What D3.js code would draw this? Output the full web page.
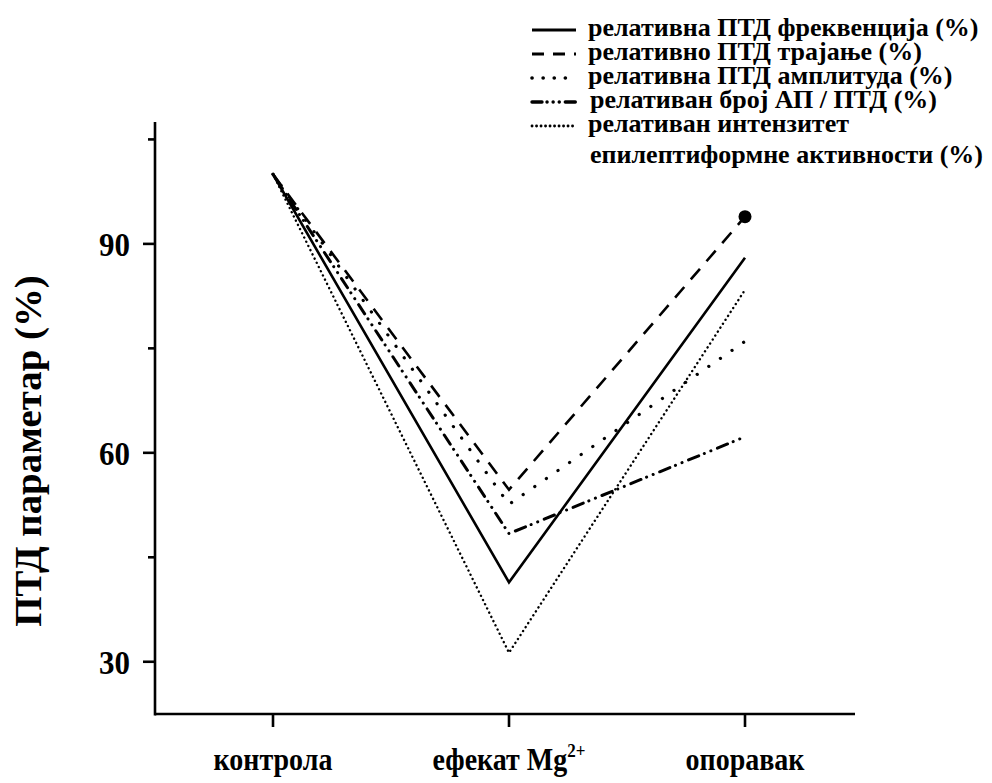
<!DOCTYPE html>
<html>
<head>
<meta charset="utf-8">
<script src="https://cdn.jsdelivr.net/npm/d3@7"></script>
<style>
  body { margin: 0; background: #fff; }
  text { font-family: "Liberation Serif", "Times New Roman", serif; font-weight: bold; fill: #000; }
</style>
</head>
<body>
<div id="chart"></div>
<script>
// Categories and series (values in %)
const categories = ['контрола', 'ефекат Mg', 'опоравак'];
const frequency = [100, 41.4, 88.0];
const duration = [100, 54.7, 93.9];
const amplitude = [100, 52.6, 76.0];
const apCount = [100, 48.4, 62.3];
const intensity = [100, 31.3, 83.4];
const yTicksMajor = [30, 60, 90];
const yTicksMinor = [45, 75, 105];

const series = [
    { name: 'релативна ПТД фреквенција (%)', values: frequency, dash: null, legDash: null, width: 2.6 },
    { name: 'релативно ПТД трајање (%)', values: duration, dash: '14,10', legDash: '12,9', width: 2.6 },
    { name: 'релативна ПТД амплитуда (%)', values: amplitude, dash: '0.1,14', legDash: '0.1,11', width: 3.2, cap: 'round' },
    { name: 'релативан број АП / ПТД (%)', values: apCount, dash: '11,6,0.1,7,0.1,7', legDash: '10,5,0.1,6,0.1,6,0.1,6', width: 3, cap: 'round' },
    { name: 'релативан интензитет', values: intensity, dash: '0.1,4.6', legDash: '0.1,4.4', width: 2.4, cap: 'round' }
];

const width = 992, height = 783;
const stretch = 1.1; // text in the picture is a bit taller than wide

const svg = d3.select('#chart')
    .append('svg')
    .attr('width', width)
    .attr('height', height);

const x = d3.scalePoint()
    .domain(categories)
    .range([155, 863])
    .padding(0.5);

const y = d3.scaleLinear()
    .domain([22.5, 107.5])
    .range([714, 122]);

// Axes
const yAxis = svg.append('g')
    .attr('transform', 'translate(155,0)');
yAxis.append('line')
    .attr('y1', y(107.5)).attr('y2', y(22.5) + 1.5)
    .attr('stroke', '#000').attr('stroke-width', 2.6);
yAxis.selectAll('.major')
    .data(yTicksMajor)
    .enter().append('line')
    .attr('x1', -12).attr('x2', 0)
    .attr('y1', d => y(d)).attr('y2', d => y(d))
    .attr('stroke', '#000').attr('stroke-width', 2.6);
yAxis.selectAll('.minor')
    .data(yTicksMinor)
    .enter().append('line')
    .attr('x1', -7).attr('x2', 0)
    .attr('y1', d => y(d)).attr('y2', d => y(d))
    .attr('stroke', '#000').attr('stroke-width', 2.6);
yAxis.selectAll('.lbl')
    .data(yTicksMajor)
    .enter().append('text')
    .attr('transform', d => `translate(-25,${y(d)}) scale(1,${stretch})`)
    .attr('dy', '0.35em')
    .attr('text-anchor', 'end')
    .style('font-size', '31px')
    .text(d => d);

const xAxis = svg.append('g')
    .attr('transform', `translate(0,${y(22.5)})`);
xAxis.append('line')
    .attr('x1', 155).attr('x2', 855)
    .attr('stroke', '#000').attr('stroke-width', 2.6);
xAxis.selectAll('.tick')
    .data(categories)
    .enter().append('line')
    .attr('x1', d => x(d)).attr('x2', d => x(d))
    .attr('y1', 0).attr('y2', 13)
    .attr('stroke', '#000').attr('stroke-width', 2.6);

const xLabels = svg.selectAll('.xlbl')
    .data(categories)
    .enter().append('text')
    .attr('transform', d => `translate(${x(d)},770) scale(1,${stretch})`)
    .attr('text-anchor', 'middle')
    .style('font-size', '28px');
xLabels.text(d => d);
xLabels.filter(d => d === 'ефекат Mg')
    .append('tspan')
    .attr('dy', -12)
    .style('font-size', '17px')
    .text('2+');

// Y title
svg.append('text')
    .attr('transform', 'translate(41,451) rotate(-90) scale(1.05,1)')
    .attr('text-anchor', 'middle')
    .style('font-size', '37px')
    .text('ПТД параметар (%)');

// Lines
const line = d3.line()
    .x((d, i) => x(categories[i]))
    .y(d => y(d));

svg.selectAll('.series')
    .data(series)
    .enter().append('path')
    .attr('d', d => line(d.values))
    .attr('fill', 'none')
    .attr('stroke', '#000')
    .attr('stroke-width', d => d.width)
    .attr('stroke-linecap', d => d.cap || 'butt')
    .attr('stroke-dasharray', d => d.dash);

// End marker on the duration series
svg.append('circle')
    .attr('cx', x(categories[2]))
    .attr('cy', y(duration[2]))
    .attr('r', 6.5)
    .attr('fill', '#000');

// Legend
const sampleRows = [30, 54, 78, 102, 126];
const legend = svg.selectAll('.leg')
    .data(series)
    .enter().append('g')
    .attr('transform', (d, i) => `translate(532,${sampleRows[i]})`);
legend.append('line')
    .attr('x1', 0).attr('x2', 44)
    .attr('stroke', '#000')
    .attr('stroke-width', d => d.width + 0.4)
    .attr('stroke-linecap', d => d.cap || 'butt')
    .attr('stroke-dasharray', d => d.legDash);
legend.append('text')
    .attr('x', (d, i) => i === 3 ? 58 : 56)
    .attr('y', 6)
    .style('font-size', '26px')
    .text(d => d.name);
svg.append('text')
    .attr('x', 590)
    .attr('y', 163)
    .style('font-size', '26px')
    .text('епилептиформне активности (%)');
</script>
</body>
</html>
